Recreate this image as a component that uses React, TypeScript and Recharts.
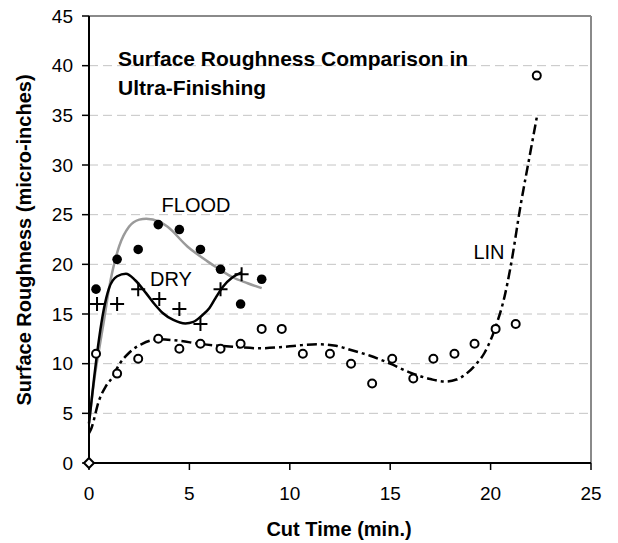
import {
  ComposedChart,
  Line,
  Scatter,
  XAxis,
  YAxis,
  CartesianGrid,
  ReferenceLine,
} from "recharts";

// measured points (cut time in min., roughness in micro-inches)
const floodTime = [0.35, 1.4, 2.45, 3.45, 4.5, 5.55, 6.55, 7.55, 8.6];
const floodRa = [17.5, 20.5, 21.5, 24, 23.5, 21.5, 19.5, 16, 18.5];

const dryTime = [0.4, 1.4, 2.45, 3.5, 4.5, 5.55, 6.55, 7.6];
const dryRa = [16, 16, 17.5, 16.5, 15.5, 14, 17.5, 19];

const linTime = [
  0.35, 1.4, 2.45, 3.45, 4.5, 5.55, 6.55, 7.55, 8.6, 9.6, 10.65, 12.0, 13.05,
  14.1, 15.1, 16.15, 17.15, 18.2, 19.2, 20.25, 21.25, 22.3,
];
const linRa = [
  11, 9, 10.5, 12.5, 11.5, 12, 11.5, 12, 13.5, 13.5, 11, 11, 10, 8, 10.5, 8.5,
  10.5, 11, 12, 13.5, 14, 39,
];

// trend curves
const floodFitTime = [0, 0.25, 0.5, 0.75, 1.0, 1.5, 2.0, 2.5, 2.85, 3.5, 3.9, 4.9, 5.9, 6.5, 7.15, 7.9, 8.6];
const floodFitRa = [4, 8.2, 11.4, 14.4, 17.6, 21.8, 23.8, 24.5, 24.6, 24.3, 23.8, 21.8, 20.3, 19.5, 18.7, 18.1, 17.6];

const dryFitTime = [0, 0.25, 0.5, 0.75, 1.0, 1.4, 1.84, 2.3, 2.84, 3.3, 3.67, 4.2, 4.8, 5.2, 5.6, 6.0, 6.3, 6.65, 7.15, 7.6];
const dryFitRa = [4, 8.5, 12.5, 15.6, 17.6, 18.8, 19.05, 18.4, 17.1, 15.9, 15.1, 14.4, 14.05, 14.2, 14.8, 15.6, 16.6, 17.7, 18.7, 19.2];

const linFitTime = [
  0, 0.1, 0.5, 0.83, 1.16, 1.5, 2.0, 2.65, 3.5, 4.5, 5.5, 6.5, 7.5, 8.5, 9.5,
  10.5, 11.4, 12.3, 13.0, 14.0, 15.0, 16.0, 17.0, 17.7, 18.3, 18.8, 19.3, 19.7,
  20.3, 20.7, 21.0, 21.5, 22.0, 22.3,
];
const linFitRa = [
  3.0, 3.4, 6.3, 7.7, 8.6, 9.9, 11.1, 12.0, 12.45, 12.3, 12.0, 11.8, 11.65,
  11.55, 11.65, 11.85, 11.95, 11.8, 11.4, 10.8, 10.0, 9.1, 8.45, 8.2, 8.4, 9.0,
  10.0, 11.1, 14.0, 16.8, 19.8, 26.0, 31.5, 34.8,
];

const origin = [{ x: 0, y: 0 }];

const xTicks = [0, 5, 10, 15, 20, 25];
const yTicks = [0, 5, 10, 15, 20, 25, 30, 35, 40, 45];

const zip = (xs: number[], ys: number[]) => xs.map((x, i) => ({ x, y: ys[i] }));

const FONT = "'Liberation Sans', Arial, sans-serif";

const Dot = (p: any) => <circle cx={p.cx} cy={p.cy} r={4.8} fill="#000" />;
const Ring = (p: any) => (
  <circle cx={p.cx} cy={p.cy} r={4} fill="#fff" stroke="#000" strokeWidth={2} />
);
const Plus = (p: any) => (
  <path
    d={`M${p.cx - 7},${p.cy}h14M${p.cx},${p.cy - 7}v14`}
    stroke="#000"
    strokeWidth={2}
    fill="none"
  />
);
const Diamond = (p: any) => (
  <path
    d={`M${p.cx},${p.cy - 5}L${p.cx + 5},${p.cy}L${p.cx},${p.cy + 5}L${p.cx - 5},${p.cy}Z`}
    fill="#fff"
    stroke="#000"
    strokeWidth={2}
  />
);

export default function App() {
  const tick = { fontSize: 19, fill: "#000", fontFamily: FONT };
  return (
    <div style={{ position: "absolute", left: 0, top: 0, background: "#fff" }}>
      <ComposedChart
        width={618}
        height={543}
        margin={{ top: 16, right: 27, bottom: 0, left: 0 }}
      >
        <CartesianGrid
          horizontal
          vertical={false}
          stroke="#c4c4c4"
          strokeDasharray="9 5"
        />
        <XAxis
          type="number"
          dataKey="x"
          domain={[0, 25]}
          ticks={xTicks}
          height={80}
          tick={tick}
          tickSize={7}
          tickMargin={17}
          axisLine={{ stroke: "#000", strokeWidth: 2 }}
          tickLine={{ stroke: "#000", strokeWidth: 1.5 }}
        />
        <YAxis
          type="number"
          dataKey="y"
          domain={[0, 45]}
          ticks={yTicks}
          width={89}
          tick={tick}
          tickSize={7}
          tickMargin={9}
          axisLine={{ stroke: "#000", strokeWidth: 2 }}
          tickLine={{ stroke: "#000", strokeWidth: 1.5 }}
        />
        <ReferenceLine y={45} stroke="#8a8a8a" strokeWidth={2} />
        <ReferenceLine x={25} stroke="#8a8a8a" strokeWidth={2} />

        <Line
          data={zip(floodFitTime, floodFitRa)}
          dataKey="y"
          type="monotone"
          stroke="#9a9a9a"
          strokeWidth={2.5}
          dot={false}
          activeDot={false}
          isAnimationActive={false}
        />
        <Line
          data={zip(dryFitTime, dryFitRa)}
          dataKey="y"
          type="monotone"
          stroke="#000"
          strokeWidth={2.5}
          dot={false}
          activeDot={false}
          isAnimationActive={false}
        />
        <Line
          data={zip(linFitTime, linFitRa)}
          dataKey="y"
          type="monotone"
          stroke="#000"
          strokeWidth={2.5}
          strokeDasharray="10 4 3 4"
          dot={false}
          activeDot={false}
          isAnimationActive={false}
        />

        <Scatter data={zip(floodTime, floodRa)} dataKey="y" shape={Dot} isAnimationActive={false} />
        <Scatter data={zip(dryTime, dryRa)} dataKey="y" shape={Plus} isAnimationActive={false} />
        <Scatter data={zip(linTime, linRa)} dataKey="y" shape={Ring} isAnimationActive={false} />
        <Scatter data={origin} dataKey="y" shape={Diamond} isAnimationActive={false} />

        <text x={118} y={66} fontSize={21} fontWeight="bold" fontFamily={FONT} fill="#000">
          Surface Roughness Comparison in
        </text>
        <text x={118} y={95} fontSize={21} fontWeight="bold" fontFamily={FONT} fill="#000">
          Ultra-Finishing
        </text>
        <text x={196} y={212} fontSize={20} textAnchor="middle" fontFamily={FONT} fill="#000">
          FLOOD
        </text>
        <text x={171} y={286} fontSize={20} textAnchor="middle" fontFamily={FONT} fill="#000">
          DRY
        </text>
        <text x={489} y={259} fontSize={20} textAnchor="middle" fontFamily={FONT} fill="#000">
          LIN
        </text>
        <text x={339} y={536} fontSize={20} fontWeight="bold" textAnchor="middle" fontFamily={FONT} fill="#000">
          Cut Time (min.)
        </text>
        <text
          x={0}
          y={0}
          transform="translate(31,240) rotate(-90)"
          fontSize={20}
          fontWeight="bold"
          textAnchor="middle"
          fontFamily={FONT}
          fill="#000"
        >
          Surface Roughness (micro-inches)
        </text>
      </ComposedChart>
    </div>
  );
}
